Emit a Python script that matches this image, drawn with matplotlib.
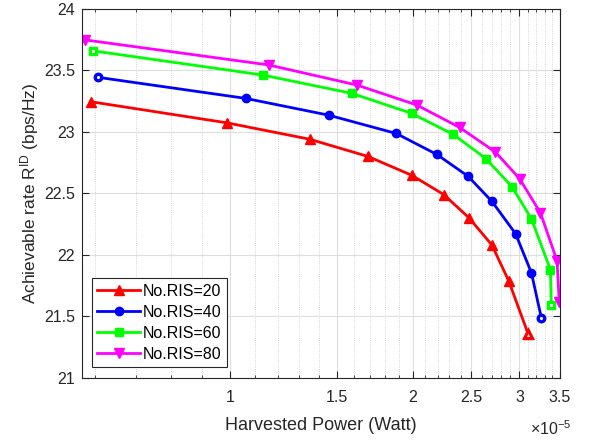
import numpy as np
import matplotlib
matplotlib.use('Agg')
import matplotlib.pyplot as plt
from matplotlib.ticker import FixedLocator, NullFormatter, FuncFormatter

plt.rcParams['font.family'] = ['Liberation Sans', 'DejaVu Sans']
plt.rcParams['mathtext.fontset'] = 'custom'
plt.rcParams['mathtext.rm'] = 'Liberation Sans'
plt.rcParams['mathtext.it'] = 'Liberation Sans:italic'

# harvested power in units of 1e-5 W, rate in bps/Hz
power_ris20 = [0.590, 0.990, 1.354, 1.689, 1.994, 2.252, 2.479, 2.703, 2.880, 3.100]
rate_ris20 = [23.245, 23.073, 22.940, 22.800, 22.647, 22.490, 22.300, 22.080, 21.790, 21.360]

power_ris40 = [0.607, 1.062, 1.454, 1.880, 2.194, 2.469, 2.703, 2.957, 3.140, 3.262]
rate_ris40 = [23.443, 23.272, 23.136, 22.987, 22.816, 22.639, 22.435, 22.172, 21.854, 21.484]

power_ris60 = [0.596, 1.133, 1.588, 1.994, 2.334, 2.641, 2.919, 3.139, 3.375, 3.385]
rate_ris60 = [23.658, 23.462, 23.313, 23.150, 22.979, 22.783, 22.552, 22.294, 21.880, 21.596]

power_ris80 = [0.578, 1.158, 1.621, 2.033, 2.391, 2.737, 3.002, 3.250, 3.460, 3.490]
rate_ris80 = [23.747, 23.544, 23.380, 23.218, 23.036, 22.837, 22.620, 22.340, 21.954, 21.615]

labels = ['No.RIS=20', 'No.RIS=40', 'No.RIS=60', 'No.RIS=80']
x_ticks = [1, 1.5, 2, 2.5, 3, 3.5]

# x, y, colour, marker, size, which end markers are hollow
series = [
    (power_ris20, rate_ris20, '#ff0000', '^', 7.5, [-1]),
    (power_ris40, rate_ris40, '#0000ff', 'o', 6, [0, -1]),
    (power_ris60, rate_ris60, '#00ff00', 's', 5.5, [0, -1]),
    (power_ris80, rate_ris80, '#ff00ff', 'v', 7.5, []),
]

axcol = '#262626'
fig = plt.figure(figsize=(5.92, 4.41), dpi=100)
ax = fig.add_axes([0.138, 0.143, 0.808, 0.837])

for (x, y, c, m, ms, hollow), lab in zip(series, labels):
    ax.plot(x, y, color=c, lw=2, marker=m, ms=ms, mfc=c, mec=c, label=lab)
    if hollow:
        ax.plot([x[i] for i in hollow], [y[i] for i in hollow], ls='none',
                marker=m, ms=ms - 1.5, mfc='white', mec=c, mew=2.2)

ax.set_xscale('log')
ax.set_xlim(0.57, 3.5)
ax.set_ylim(21, 24)
ax.xaxis.set_major_locator(FixedLocator(x_ticks))
ax.xaxis.set_major_formatter(FuncFormatter(lambda v, p: f'{v:g}'))
minor = [round(v, 1) for v in np.arange(0.6, 3.5, 0.1)]
minor = [v for v in minor if v not in x_ticks]
ax.xaxis.set_minor_locator(FixedLocator(minor))
ax.xaxis.set_minor_formatter(NullFormatter())
ax.set_yticks(np.arange(21, 24.01, 0.5))
ax.yaxis.set_major_formatter(FuncFormatter(lambda v, p: f'{v:g}'))

ax.grid(True, which='major', color='#dedede', lw=0.8, ls='-')
ax.grid(True, which='minor', axis='x', color='#c8c8c8', lw=0.6, ls=':')
ax.set_axisbelow(True)

ax.tick_params(which='both', direction='in', top=True, right=True,
               colors=axcol, labelsize=11.5)
ax.tick_params(which='major', length=5, width=0.8)
ax.tick_params(which='minor', length=2.5, width=0.6)
ax.tick_params(axis='x', which='both', pad=9)
ax.tick_params(axis='y', pad=5)
for s in ax.spines.values():
    s.set_color(axcol)
    s.set_linewidth(0.8)

ax.set_xlabel('Harvested Power (Watt)', fontsize=13, color=axcol, labelpad=8)
ax.set_ylabel(r'Achievable rate R$^{\mathrm{ID}}$ (bps/Hz)', fontsize=12.5,
              color=axcol, labelpad=2)
ax.text(1.025, -0.113, r'$\times$10$^{-5}$', transform=ax.transAxes,
        ha='right', va='top', fontsize=11.5, color=axcol)

leg = ax.legend(loc='lower left', bbox_to_anchor=(0.022, 0.03), fontsize=11.5,
                handlelength=2.7, labelspacing=0.38, borderpad=0.32,
                handletextpad=0.15, fancybox=False, framealpha=1,
                edgecolor=axcol, borderaxespad=0)
leg.get_frame().set_linewidth(0.8)

fig.savefig('out.png', dpi=100)
